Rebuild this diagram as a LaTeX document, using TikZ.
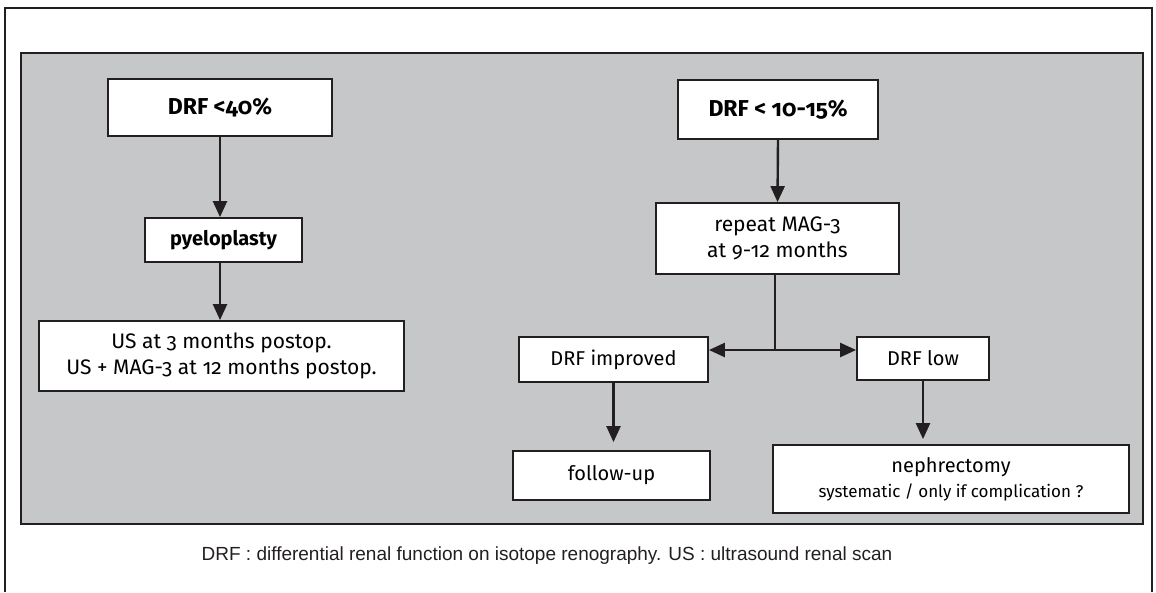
\documentclass[tikz,border=0pt]{standalone}
\usepackage{fontspec}
\setmainfont{Fira Sans}[Numbers=OldStyle]
\newfontfamily\notefont{Liberation Sans}
\usetikzlibrary{arrows.meta}
\newlength{\du}
\setlength{\du}{1pt}
\definecolor{panelgray}{RGB}{198,199,201}
\definecolor{inkcolor}{RGB}{35,31,32}
\tikzset{
  flowbox/.style={draw=inkcolor, fill=white, line width=1.8\du, inner sep=0pt, align=center, font=\fontsize{20}{25}\selectfont},
  flowtip/.tip={Triangle[width=14pt,length=16pt]},
  flowarrow/.style={draw=inkcolor, line width=2.4\du, -flowtip},
}

\begin{document}
\begin{tikzpicture}
\pgftransformxscale{1.000000}
\pgftransformyscale{-1.000000}
\useasboundingbox (0\du,0\du) rectangle (1156\du,592\du);
% outer frame, open at the bottom
\draw[inkcolor, line width=2.4\du] (5\du,592\du)--(5\du,8\du)--(1152\du,8\du)--(1152\du,592\du);
% grey panel
\draw[inkcolor, fill=panelgray, line width=1.8\du] (21\du,53\du) rectangle (1143\du,524\du);
% left column
\node[flowbox, minimum width=224\du, minimum height=57\du, font=\fontsize{23}{28}\selectfont\bfseries] (drflow40) at (220\du,107.5\du){DRF <40\%};
\node[flowbox, minimum width=157\du, minimum height=44\du, font=\fontsize{20}{24}\selectfont\bfseries] (pyeloplasty) at (223.5\du,240\du){pyeloplasty};
\node[flowbox, minimum width=365\du, minimum height=70\du, font=\fontsize{21}{26}\selectfont] (postop) at (221.5\du,356\du){US at 3 months postop.\\US + MAG-3 at 12 months postop.};
% right column
\node[flowbox, minimum width=200\du, minimum height=59\du, font=\fontsize{23}{28}\selectfont\bfseries] (drflow10) at (778\du,109.5\du){DRF < 10-15\%};
\node[flowbox, minimum width=243\du, minimum height=71\du, font=\fontsize{21}{26}\selectfont] (repeatmag) at (777.5\du,238.5\du){repeat MAG-3\\at 9-12 months};
\node[flowbox, minimum width=189\du, minimum height=45\du] (improved) at (613.5\du,359.5\du){DRF improved};
\node[flowbox, minimum width=132\du, minimum height=43\du] (drflowres) at (923\du,358.5\du){DRF low};
\node[flowbox, minimum width=197\du, minimum height=49\du] (followup) at (611.5\du,475.5\du){follow-up};
\node[flowbox, minimum width=356\du, minimum height=68\du] (nephrectomy) at (951\du,479\du){nephrectomy\\{\fontsize{17}{22}\selectfont systematic / only if complication ?}};
\coordinate (split) at (775\du,350\du);
% arrows
\draw[flowarrow] (drflow40.south)--(drflow40.south |- pyeloplasty.north);
\draw[flowarrow] (pyeloplasty.south -| drflow40.south)--(drflow40.south |- postop.north);
\draw[flowarrow] (drflow10.south)--(repeatmag.north);
\draw[inkcolor, line width=2.4\du] (repeatmag.south -| split)--(split);
\draw[flowarrow, flowtip-flowtip] (improved.east |- split)--(drflowres.west |- split);
\draw[flowarrow, shorten >=8\du] (improved.south)--(improved.south |- followup.north);
\draw[flowarrow, shorten >=5\du] (drflowres.south)--(drflowres.south |- nephrectomy.north);
% legend
\node[font=\notefont\fontsize{19}{23}\selectfont, text=inkcolor] (legend) at (547\du,556\du){DRF : differential renal function on isotope renography. US : ultrasound renal scan};
\end{tikzpicture}
\end{document}
